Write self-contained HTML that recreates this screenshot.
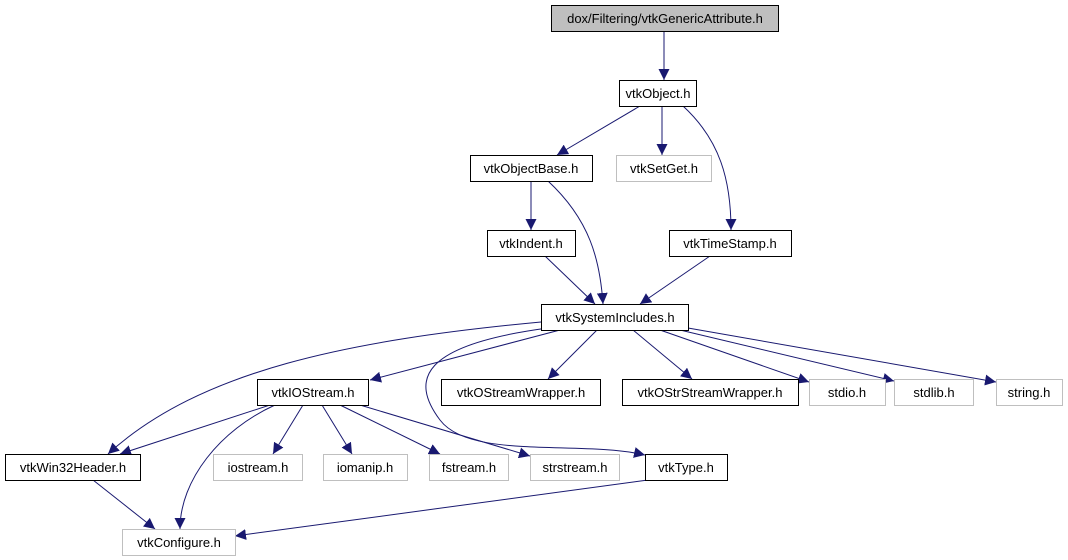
<!DOCTYPE html>
<html><head><meta charset="utf-8"><style>
html,body{margin:0;padding:0;background:#fff}
svg{display:block}
text{font-family:"Liberation Sans",sans-serif;font-size:13px;fill:#000}
</style></head><body>
<svg width="1068" height="560" viewBox="0 0 1068 560" xmlns="http://www.w3.org/2000/svg">
<defs><marker id="a" viewBox="0 0 10 10" refX="10" refY="5" markerWidth="11" markerHeight="11" markerUnits="userSpaceOnUse" orient="auto"><path d="M0,0 L10,5 L0,10 z" fill="#191970"/></marker></defs>
<g fill="none" stroke="#191970" stroke-width="1" marker-end="url(#a)">
<path d="M664,31 L664,80"/>
<path d="M640,106 L557,155"/>
<path d="M662,106 L662,155"/>
<path d="M683,106 C720,140 731,180 731,230"/>
<path d="M531,181 L531,230"/>
<path d="M548,181 C590,220 600,260 603,304"/>
<path d="M545,256 L595,304"/>
<path d="M710,256 L640,304"/>
<path d="M560,330 L370,380"/>
<path d="M541,322 C350,340 200,370 108,454"/>
<path d="M548,328 C420,345 410,380 440,420 C470,460 580,440 645,455"/>
<path d="M597,330 L548,379"/>
<path d="M633,330 L692,379"/>
<path d="M660,330 L809,382"/>
<path d="M680,330 L894,381"/>
<path d="M688,328 L996,382"/>
<path d="M270,405 L120,454"/>
<path d="M275,405 C220,430 180,480 180,529"/>
<path d="M303,405 L273,454"/>
<path d="M322,405 L352,454"/>
<path d="M340,405 L440,454"/>
<path d="M360,405 L530,456"/>
<path d="M93,480 L155,529"/>
<path d="M648,480 L235,536"/>
</g>
<g stroke-width="1">
<rect x="551.5" y="5.5" width="227" height="26" fill="#bfbfbf" stroke="#000"/>
<rect x="619.5" y="80.5" width="77" height="26" fill="#fff" stroke="#000"/>
<rect x="470.5" y="155.5" width="122" height="26" fill="#fff" stroke="#000"/>
<rect x="616.5" y="155.5" width="95" height="26" fill="#fff" stroke="#bfbfbf"/>
<rect x="487.5" y="230.5" width="88" height="26" fill="#fff" stroke="#000"/>
<rect x="669.5" y="230.5" width="122" height="26" fill="#fff" stroke="#000"/>
<rect x="541.5" y="304.5" width="147" height="26" fill="#fff" stroke="#000"/>
<rect x="257.5" y="379.5" width="111" height="26" fill="#fff" stroke="#000"/>
<rect x="441.5" y="379.5" width="159" height="26" fill="#fff" stroke="#000"/>
<rect x="622.5" y="379.5" width="176" height="26" fill="#fff" stroke="#000"/>
<rect x="809.5" y="379.5" width="76" height="26" fill="#fff" stroke="#bfbfbf"/>
<rect x="894.5" y="379.5" width="79" height="26" fill="#fff" stroke="#bfbfbf"/>
<rect x="996.5" y="379.5" width="66" height="26" fill="#fff" stroke="#bfbfbf"/>
<rect x="5.5" y="454.5" width="135" height="26" fill="#fff" stroke="#000"/>
<rect x="213.5" y="454.5" width="89" height="26" fill="#fff" stroke="#bfbfbf"/>
<rect x="323.5" y="454.5" width="84" height="26" fill="#fff" stroke="#bfbfbf"/>
<rect x="429.5" y="454.5" width="79" height="26" fill="#fff" stroke="#bfbfbf"/>
<rect x="530.5" y="454.5" width="89" height="26" fill="#fff" stroke="#bfbfbf"/>
<rect x="645.5" y="454.5" width="82" height="26" fill="#fff" stroke="#000"/>
<rect x="122.5" y="529.5" width="113" height="26" fill="#fff" stroke="#bfbfbf"/>
</g>
<g text-anchor="middle">
<text x="665" y="23">dox/Filtering/vtkGenericAttribute.h</text>
<text x="658" y="98">vtkObject.h</text>
<text x="531" y="173">vtkObjectBase.h</text>
<text x="664" y="173">vtkSetGet.h</text>
<text x="531" y="248">vtkIndent.h</text>
<text x="730" y="248">vtkTimeStamp.h</text>
<text x="615" y="322">vtkSystemIncludes.h</text>
<text x="313" y="397">vtkIOStream.h</text>
<text x="521" y="397">vtkOStreamWrapper.h</text>
<text x="710" y="397">vtkOStrStreamWrapper.h</text>
<text x="847" y="397">stdio.h</text>
<text x="934" y="397">stdlib.h</text>
<text x="1029" y="397">string.h</text>
<text x="73" y="472">vtkWin32Header.h</text>
<text x="258" y="472">iostream.h</text>
<text x="365" y="472">iomanip.h</text>
<text x="469" y="472">fstream.h</text>
<text x="575" y="472">strstream.h</text>
<text x="686" y="472">vtkType.h</text>
<text x="179" y="547">vtkConfigure.h</text>
</g>
</svg>
</body></html>
